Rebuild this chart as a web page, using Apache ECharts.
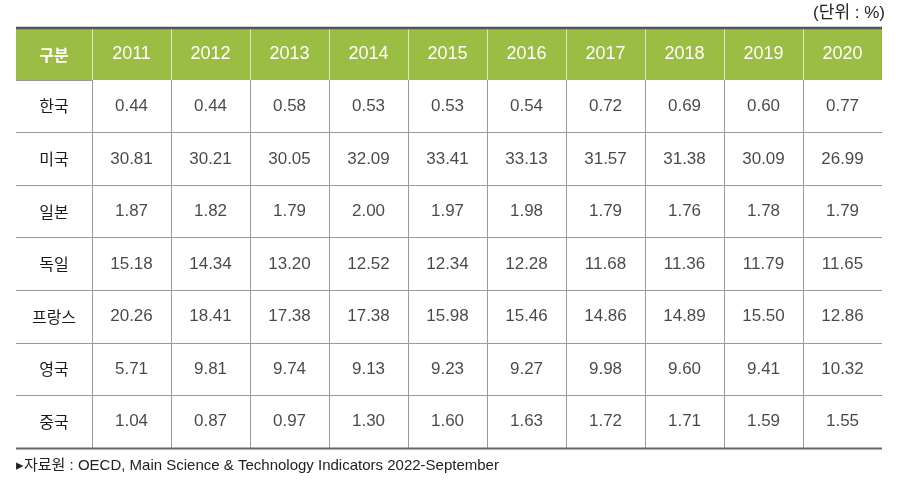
<!DOCTYPE html>
<html><head><meta charset="utf-8">
<script src="https://cdn.jsdelivr.net/npm/echarts@6/dist/echarts.min.js"></script>
<style>html,body{margin:0;padding:0;background:#fff}#c{width:904px;height:487px}</style>
</head><body><div id="c"></div>
<script>
const years = ['2011','2012','2013','2014','2015','2016','2017','2018','2019','2020'];
const countries = ['한국','미국','일본','독일','프랑스','영국','중국'];
const korea   = [0.44, 0.44, 0.58, 0.53, 0.53, 0.54, 0.72, 0.69, 0.60, 0.77];
const usa     = [30.81, 30.21, 30.05, 32.09, 33.41, 33.13, 31.57, 31.38, 30.09, 26.99];
const japan   = [1.87, 1.82, 1.79, 2.00, 1.97, 1.98, 1.79, 1.76, 1.78, 1.79];
const germany = [15.18, 14.34, 13.20, 12.52, 12.34, 12.28, 11.68, 11.36, 11.79, 11.65];
const france  = [20.26, 18.41, 17.38, 17.38, 15.98, 15.46, 14.86, 14.89, 15.50, 12.86];
const uk      = [5.71, 9.81, 9.74, 9.13, 9.23, 9.27, 9.98, 9.60, 9.41, 10.32];
const china   = [1.04, 0.87, 0.97, 1.30, 1.60, 1.63, 1.72, 1.71, 1.59, 1.55];
const rows = [korea, usa, japan, germany, france, uk, china];
const headerLabel = '구분';
const unitText = '(단위 : %)';
const sourceText = '▸자료원 : OECD, Main Science & Technology Indicators 2022-September';

const numFont = "'Liberation Sans','Noto Sans CJK KR',sans-serif";
const korFont = "'Noto Sans CJK KR',sans-serif";
const mixFont = "'Liberation Sans','Noto Sans CJK KR',sans-serif";
const gridColor = '#9a9a9a';
const green = '#9cbd44';

const cells = [];
rows.forEach((vals, r) => vals.forEach((v, c) => cells.push([c, r, v])));

const chart = echarts.init(document.getElementById('c'), null, {renderer: 'canvas'});
chart.setOption({
  animation: false,
  backgroundColor: '#fff',
  grid: [
    {left: 92, right: 22, top: 29, height: 51},
    {left: 92, right: 22, top: 80, height: 368}
  ],
  xAxis: [
    {
      type: 'category', data: years, gridIndex: 0, position: 'top',
      axisLine: {show: false}, axisTick: {show: false},
      axisLabel: {inside: true, margin: 25, interval: 0, color: '#fff', fontSize: 18,
        fontFamily: numFont, verticalAlign: 'middle'},
      splitLine: {show: true, interval: 0, showMinLine: true, showMaxLine: false,
        lineStyle: {color: 'rgba(255,255,255,0.65)', width: 1}}
    },
    {
      type: 'category', data: years, gridIndex: 1,
      axisLine: {show: false}, axisTick: {show: false}, axisLabel: {show: false},
      splitLine: {show: true, interval: 0, showMinLine: true, showMaxLine: false,
        lineStyle: {color: gridColor, width: 1}}
    }
  ],
  yAxis: [
    {
      type: 'category', data: [headerLabel], gridIndex: 0,
      axisLine: {show: false}, axisTick: {show: false},
      axisLabel: {margin: 38, align: 'center', color: '#fff', fontSize: 16, fontWeight: 'bold', fontFamily: korFont}
    },
    {
      type: 'category', data: countries, gridIndex: 1, inverse: true,
      axisLine: {show: false},
      axisTick: {show: true, inside: false, length: 76, interval: 0, lineStyle: {color: gridColor, width: 1}},
      axisLabel: {margin: 38, align: 'center', color: '#1a1a1a', fontSize: 16, fontFamily: korFont, interval: 0},
      splitLine: {show: true, interval: 0, showMinLine: false, showMaxLine: false,
        lineStyle: {color: gridColor, width: 1}}
    }
  ],
  series: [{
    type: 'scatter', xAxisIndex: 1, yAxisIndex: 1, data: cells,
    symbol: 'rect', symbolSize: 1, itemStyle: {color: 'rgba(0,0,0,0)'}, silent: true,
    label: {show: true, position: 'inside', color: '#1a1a1a', fontSize: 17, fontFamily: numFont,
      formatter: p => p.value[2].toFixed(2)},
    emphasis: {disabled: true}
  }],
  graphic: [
    {type: 'rect', z: -10, silent: true, shape: {x: 16, y: 29, width: 866, height: 51}, style: {fill: green}},
    {type: 'line', z: 10, silent: true, shape: {x1: 16, y1: 28, x2: 882, y2: 28}, style: {stroke: '#555', lineWidth: 2.5}},
    {type: 'line', z: 10, silent: true, shape: {x1: 16, y1: 448.5, x2: 882, y2: 448.5}, style: {stroke: '#666', lineWidth: 2}},
    {type: 'text', right: 19, top: 5, silent: true,
      style: {text: unitText, font: "17px " + mixFont, fill: '#222'}},
    {type: 'text', left: 16, top: 458, silent: true,
      style: {text: sourceText, font: "15px " + mixFont, fill: '#222'}}
  ]
});
</script></body></html>
